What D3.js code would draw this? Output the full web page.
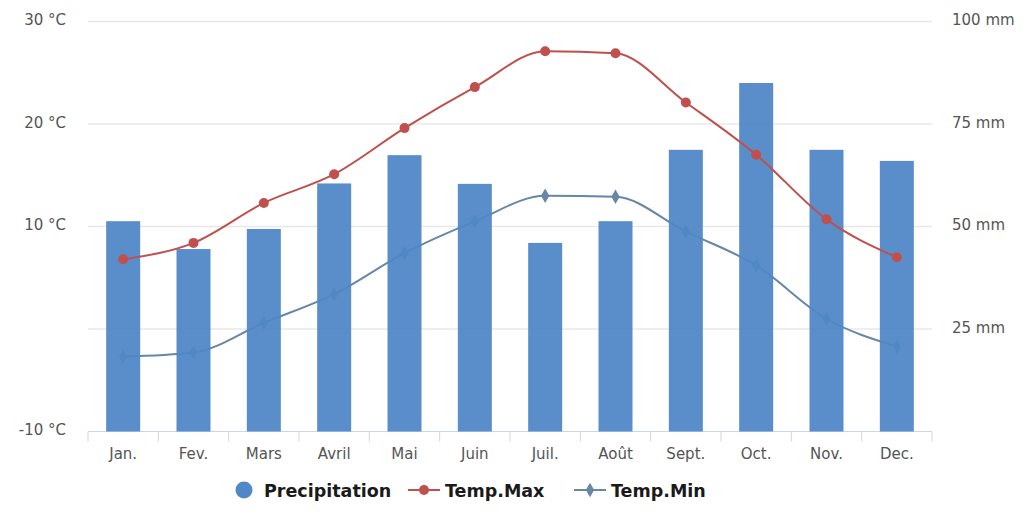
<!DOCTYPE html>
<html>
<head>
<meta charset="utf-8">
<script src="https://cdn.jsdelivr.net/npm/d3@7"></script>
<style>
  html, body { margin: 0; padding: 0; background: #fff; }
  svg { display: block; }
  .axis text { font-family: "DejaVu Sans", sans-serif; fill: #555; }
</style>
</head>
<body>
<svg id="chart" width="1023" height="524"></svg>
<script>
// Climate data: monthly precipitation and temperature range
const months = ["Jan.", "Fev.", "Mars", "Avril", "Mai", "Juin", "Juil.", "Août", "Sept.", "Oct.", "Nov.", "Dec."];
const precipitation = [51.3, 44.5, 49.4, 60.5, 67.4, 60.4, 46, 51.3, 68.7, 85, 68.7, 66];
const tempMax = [6.8, 8.4, 12.3, 15.1, 19.6, 23.6, 27.1, 26.9, 22.1, 17.0, 10.7, 7.0];
const tempMin = [-2.7, -2.3, 0.6, 3.4, 7.4, 10.5, 13.0, 12.9, 9.5, 6.2, 1.0, -1.7];
const tempGrid = [0, 10, 20, 30];
const tempTicks = [-10, 10, 20, 30];
const precipTicks = [25, 50, 75, 100];

const colors = { bar: "#4f87c7", max: "#c0504d", min: "#6886a6" };

const svg = d3.select("#chart");

const x = d3.scaleBand().domain(months).range([88, 932]);
const yT = d3.scaleLinear().domain([-10, 30]).range([431.5, 21.5]);
const yP = d3.scaleLinear().domain([0, 100]).range([431.5, 21.5]);

// horizontal grid
svg.append("g").selectAll("line").data(tempGrid).join("line")
  .attr("x1", 88).attr("x2", 932)
  .attr("y1", d => yT(d)).attr("y2", d => yT(d))
  .attr("stroke", "#e8e8e8").attr("stroke-width", 1.5);

// left temperature axis
const gL = svg.append("g").attr("class", "axis").attr("transform", "translate(70,0)")
  .call(d3.axisLeft(yT).tickValues(tempTicks).tickSize(0).tickPadding(4).tickFormat(d => d + " °C"));
gL.select(".domain").remove();
gL.selectAll("text").attr("font-size", 15).attr("dy", "0.2em");

// right precipitation axis
const gR = svg.append("g").attr("class", "axis").attr("transform", "translate(948,0)")
  .call(d3.axisRight(yP).tickValues(precipTicks).tickSize(0).tickPadding(4).tickFormat(d => d + " mm"));
gR.select(".domain").remove();
gR.selectAll("text").attr("font-size", 15).attr("dy", "0.2em");

// bottom category axis
const gB = svg.append("g").attr("class", "axis").attr("transform", "translate(0,431.5)");
gB.append("line").attr("x1", 88).attr("x2", 932).attr("stroke", "#ccd6eb");
gB.selectAll("line.tick").data(d3.range(months.length + 1)).join("line")
  .attr("class", "tick")
  .attr("x1", i => 88 + i * x.step()).attr("x2", i => 88 + i * x.step())
  .attr("y1", 0).attr("y2", 10).attr("stroke", "#ccd6eb");
gB.selectAll("text").data(months).join("text")
  .attr("x", d => x(d) + x.bandwidth() / 2)
  .attr("y", 27)
  .attr("text-anchor", "middle")
  .attr("font-size", 15)
  .text(d => d);

const line = (yScale) => d3.line()
  .x((d, i) => x(months[i]) + x.bandwidth() / 2)
  .y(d => yScale(d))
  .curve(d3.curveMonotoneX);

// minimum temperature sits beneath the columns
svg.append("path").datum(tempMin)
  .attr("d", line(yT)).attr("fill", "none")
  .attr("stroke", colors.min).attr("stroke-width", 2);
const diamond = d3.symbol().type(d3.symbolDiamond).size(60);
svg.append("g").selectAll("path").data(tempMin).join("path")
  .attr("transform", (d, i) => `translate(${x(months[i]) + x.bandwidth() / 2},${yT(d)})`)
  .attr("d", diamond)
  .attr("fill", colors.min);

// precipitation columns
const barW = 34;
svg.append("g").selectAll("rect").data(precipitation).join("rect")
  .attr("x", (d, i) => x(months[i]) + x.bandwidth() / 2 - barW / 2)
  .attr("width", barW)
  .attr("y", d => yP(d))
  .attr("height", d => yP(0) - yP(d))
  .attr("fill", colors.bar)
  .attr("fill-opacity", 0.94);

// maximum temperature on top
svg.append("path").datum(tempMax)
  .attr("d", line(yT)).attr("fill", "none")
  .attr("stroke", colors.max).attr("stroke-width", 2);
svg.append("g").selectAll("circle").data(tempMax).join("circle")
  .attr("cx", (d, i) => x(months[i]) + x.bandwidth() / 2)
  .attr("cy", d => yT(d))
  .attr("r", 5)
  .attr("fill", colors.max);

// legend
const legend = svg.append("g").attr("font-family", "'DejaVu Sans', sans-serif")
  .attr("font-weight", "bold").attr("font-size", 17.5).attr("fill", "#1a1a1a");
const ly = 490;
legend.append("circle").attr("cx", 244).attr("cy", ly).attr("r", 8.5).attr("fill", colors.bar);
legend.append("text").attr("x", 264).attr("y", ly + 6.5).text("Precipitation");

legend.append("line").attr("x1", 408).attr("x2", 440).attr("y1", ly).attr("y2", ly)
  .attr("stroke", colors.max).attr("stroke-width", 2);
legend.append("circle").attr("cx", 424).attr("cy", ly).attr("r", 5).attr("fill", colors.max);
legend.append("text").attr("x", 445).attr("y", ly + 6.5).text("Temp.Max");

legend.append("line").attr("x1", 574).attr("x2", 606).attr("y1", ly).attr("y2", ly)
  .attr("stroke", colors.min).attr("stroke-width", 2);
legend.append("path").attr("transform", `translate(590,${ly})`).attr("d", diamond).attr("fill", colors.min);
legend.append("text").attr("x", 611).attr("y", ly + 6.5).text("Temp.Min");
</script>
</body>
</html>
